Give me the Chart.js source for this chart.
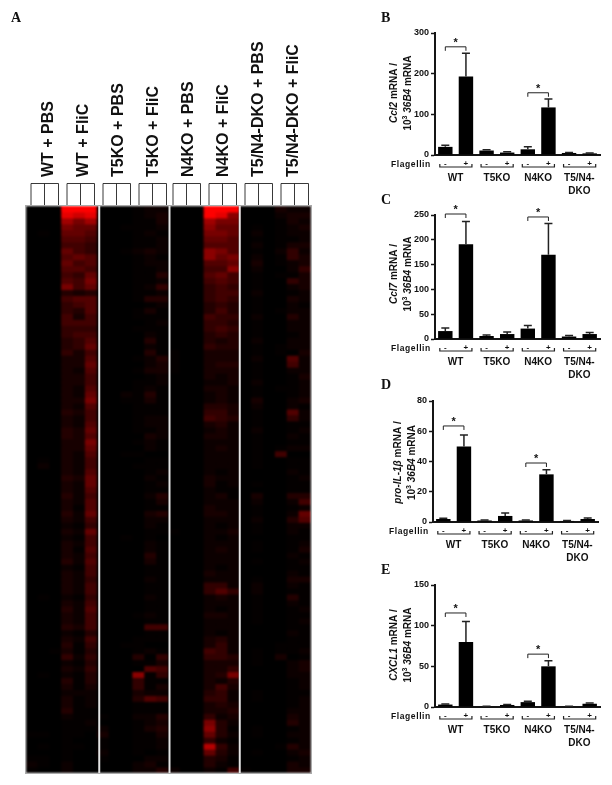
<!DOCTYPE html>
<html>
<head>
<meta charset="utf-8">
<script src="https://cdn.jsdelivr.net/npm/chart.js@4"></script>
<style>
html, body { margin: 0; padding: 0; background: #fff; }
body { position: relative; width: 612px; height: 785px; overflow: hidden; }
canvas { position: absolute; }
#heat { filter: blur(1px); clip-path: inset(206px 19px 12px 26px); }
</style>
</head>
<body>
<canvas id="heat" width="330" height="785" style="left:0;top:0"></canvas>
<canvas id="heatTop" width="330" height="785" style="left:0;top:0"></canvas>
<canvas id="panelB" width="242" height="198" style="left:370px;top:0"></canvas>
<canvas id="panelC" width="242" height="190" style="left:370px;top:192px"></canvas>
<canvas id="panelD" width="242" height="186" style="left:370px;top:376px"></canvas>
<canvas id="panelE" width="242" height="208" style="left:370px;top:562px"></canvas>
<script>
// heat map, one string per row, one hex digit per replicate (0 = black, f = full red)
var heatWT = [
  '000fff','000ede','000b9b','000988','010887','000776','000665','000865','000787','000867','000776','000658',
  '000769','000968','000434','000677','000567','000547','000636','000666','000555','000566','000457','000458',
  '000536','000337','000338','000327','000336','000336','000327','000328','000339','000327','000436','000326',
  '000327','000438','000437','000339','000338','000327','010326','020326','000327','000438','000328','000327',
  '000426','000327','000317','000428','000326','000215','000328','000216','000326','000317','000326','000427',
  '000216','000326','000325','000326','000326','010215','000326','000427','000326','000326','000436','000214',
  '000326','000415','001314','000525','000214','000325','010214','000414','000313','000222','000312','000312',
  '000411','000211','000112','000111','110110','000100','010110','000100','110100','210200','100200'
];
var heatT5 = [
  '000122','000123','000113','001112','000121','000112','000112','001232','000121','000122','000112','000114',
  '000112','000125','000112','000144','000012','000131','000111','000012','000111','000021','000041','000021',
  '000041','000124','000023','000133','000012','000112','000121','002141','001131','000111','000111','000122',
  '000122','000112','000032','000121','000021','001100','000011','000111','000012','000021','000012','000011',
  '000024','000013','000011','000034','000022','000021','000011','001010','000021','000021','000041','000031',
  '000011','000011','000021','000011','000011','000021','000011','000011','000121','000011','000066','000011',
  '000111','001100','000121','000405','000113','000076','000a15','000511','000513','000322','000476','000111',
  '000111','100224','000123','200134','300113','100112','100112','200101','100022','000231','000224'
];
var heatN4 = [
  '000fff','000fea','000b99','000a88','000998','000887','000777','000a97','000a89','000778','00066a','000786',
  '000676','000565','000566','000565','000454','000464','000655','000554','000565','000454','000434','000544',
  '100333','100333','100344','100333','000323','000223','000332','000232','000232','000443','000553','000654',
  '000342','000232','000332','000222','000232','000222','000222','000222','000212','000322','000312','000211',
  '000231','000222','000322','000332','000222','000212','100223','000212','000222','000232','000222','000222',
  '000212','000322','000222','000552','000575','000232','000222','000212','000332','000222','000222','000212',
  '000342','000352','000652','000554','000333','000335','000349','000324','000363','000452','000552','000343',
  '000334','000523','000942','000a41','000842','000521','000c52','000842','000431','000421','200216'
];
var heatDKO = [
  '000322','000233','000132','010123','020122','010112','020133','010252','020153','030123','020025','010113',
  '010053','010023','020012','010032','010021','010122','020042','010022','010022','010012','020022','010122',
  '010103','020072','010062','010022','010013','020012','010112','010012','030023','020021','010072','010052',
  '010011','020012','010021','010011','010122','010600','010011','010011','000021','000012','010011','000011',
  '030044','020026','010012','010028','020047','010022','010021','000011','010012','010013','000021','010012',
  '000011','000021','010033','020021','020011','010041','010021','010012','010011','010012','000011','000021',
  '000011','000111','010112','010301','010023','000023','000022','000012','000012','010011','010012','000012',
  '000022','000032','000042','010012','010022','000012','000142','010023','000012','000032','100033'
];
var heatPanels = [heatWT, heatT5, heatN4, heatDKO];
var heatLabels = ['WT + PBS', 'WT + FliC', 'T5KO + PBS', 'T5KO + FliC', 'N4KO + PBS', 'N4KO + FliC', 'T5/N4-DKO + PBS', 'T5/N4-DKO + FliC'];

// bar panels
var groups = [['WT'], ['T5KO'], ['N4KO'], ['T5/N4-', 'DKO']];
var ccl2Mean = [20, 193, 11, 6, 14, 117, 5, 4];
var ccl2Top = [24, 250, 13, 8, 20, 138, 6, 5];
var ccl7Mean = [16, 191, 6, 10, 21, 170, 5, 10];
var ccl7Top = [22, 237, 8, 14, 27, 233, 7, 13];
var il1bMean = [2, 50, 1, 4, 1, 31.5, 0.7, 2];
var il1bTop = [2.4, 57.5, 1.3, 6, 1.3, 34.5, 1, 2.6];
var cxcl1Mean = [3, 80, 0.7, 2.5, 6, 50, 0.7, 4];
var cxcl1Top = [3.8, 105, 1, 3.2, 7, 57, 1, 4.8];

var INK = '#151515';
var SANS = '"Liberation Sans", Arial, sans-serif';
var SERIF = '"Liberation Serif", "Times New Roman", serif';

function redFor(digit) {
  var v = parseInt(digit, 16) / 15;
  return 'rgb(' + Math.round(Math.pow(v, 1.5) * 255) + ',0,0)';
}

// one stacked dataset per heat map row
var heatDatasets = heatWT.map(function (row, r) {
  var cells = heatPanels.map(function (p) { return p[r]; }).join('').split('');
  return {
    data: cells.map(function () { return 1; }),
    backgroundColor: cells.map(redFor),
    borderWidth: 0,
    inflateAmount: 0.5,
    barPercentage: 1,
    categoryPercentage: 1
  };
});

var heatDecor = {
  id: 'heatDecor',
  beforeDatasetsDraw: function (chart) {
    var a = chart.chartArea, ctx = chart.ctx;
    ctx.fillStyle = '#000';
    ctx.fillRect(a.left, a.top, a.width, a.height);
  },
  afterDatasetsDraw: function (chart) {
    var a = chart.chartArea, xs = chart.scales.x;
    // frame and labels go on the sharp canvas above the blurred cells
    var ctx = document.getElementById('heatTop').getContext('2d');
    ctx.save();
    ctx.strokeStyle = '#e4e4e4';
    ctx.lineWidth = 2;
    [[6, 2], [12, 1], [18, 0]].forEach(function (s) {
      var x = xs.getPixelForValue(s[0]) - xs.width / 48 + s[1];
      ctx.beginPath(); ctx.moveTo(x, a.top); ctx.lineTo(x, a.bottom); ctx.stroke();
    });
    ctx.strokeStyle = '#aaa';
    ctx.lineWidth = 1;
    ctx.strokeRect(a.left - 0.5, a.top - 0.5, a.width + 1, a.height + 1);
    // combs above the columns
    var combLeft = [31, 67, 103, 139, 173, 209, 245, 281];
    var labelX = [49, 84, 119, 154, 189, 224, 259, 294];
    ctx.strokeStyle = '#222';
    ctx.lineWidth = 0.9;
    combLeft.forEach(function (x0) {
      ctx.beginPath();
      ctx.moveTo(x0, 205); ctx.lineTo(x0, 183.5); ctx.lineTo(x0 + 27.5, 183.5); ctx.lineTo(x0 + 27.5, 205);
      ctx.moveTo(x0 + 13.5, 183.5); ctx.lineTo(x0 + 13.5, 205);
      ctx.stroke();
    });
    // condition labels
    ctx.fillStyle = '#111';
    ctx.font = 'bold 16px ' + SANS;
    ctx.textAlign = 'left';
    ctx.textBaseline = 'middle';
    heatLabels.forEach(function (t, i) {
      ctx.save();
      ctx.translate(labelX[i], 177);
      ctx.rotate(-Math.PI / 2);
      ctx.fillText(t, 0, 0);
      ctx.restore();
    });
    ctx.font = 'bold 14px ' + SERIF;
    ctx.textBaseline = 'alphabetic';
    ctx.fillText('A', 11, 22);
    ctx.restore();
  }
};

new Chart(document.getElementById('heat'), {
  type: 'bar',
  data: { labels: heatDatasets[0].data.map(function (d, i) { return i; }), datasets: heatDatasets },
  options: {
    responsive: false,
    animation: false,
    events: [],
    layout: { padding: { left: 26, right: 19, top: 206, bottom: 12 } },
    plugins: { legend: { display: false }, tooltip: { enabled: false } },
    scales: {
      x: { stacked: true, display: false },
      y: { stacked: true, display: false, reverse: true, min: 0, max: heatWT.length }
    }
  },
  plugins: [heatDecor]
});

// writes a rotated line made of plain, italic and superscript runs
function rotatedRuns(ctx, runs, x, y) {
  var total = 0;
  runs.forEach(function (r) {
    ctx.font = (r.it ? 'italic ' : '') + 'bold ' + (r.sup ? 7 : 10) + 'px ' + SANS;
    r.w = ctx.measureText(r.t).width;
    total += r.w;
  });
  ctx.save();
  ctx.translate(x, y);
  ctx.rotate(-Math.PI / 2);
  var pos = -total / 2;
  ctx.textAlign = 'left';
  ctx.textBaseline = 'alphabetic';
  runs.forEach(function (r) {
    ctx.font = (r.it ? 'italic ' : '') + 'bold ' + (r.sup ? 7 : 10) + 'px ' + SANS;
    ctx.fillText(r.t, pos, r.sup ? -4 : 0);
    pos += r.w;
  });
  ctx.restore();
}

function barPanel(o) {
  var decor = {
    id: 'decor',
    afterDatasetsDraw: function (chart) {
      var ctx = chart.ctx, xs = chart.scales.x, ys = chart.scales.y, a = chart.chartArea;
      var zero = ys.getPixelForValue(0);
      ctx.save();
      // upper error bars
      ctx.strokeStyle = '#222';
      ctx.lineWidth = 1.5;
      o.top.forEach(function (t, i) {
        var x = xs.getPixelForValue(i), y = ys.getPixelForValue(t);
        ctx.beginPath();
        ctx.moveTo(x, ys.getPixelForValue(o.mean[i]));
        ctx.lineTo(x, y);
        ctx.moveTo(x - 4, y);
        ctx.lineTo(x + 4, y);
        ctx.stroke();
      });
      // significance brackets over the + / - pairs
      ctx.strokeStyle = '#222';
      ctx.lineWidth = 1;
      ctx.fillStyle = '#111';
      ctx.textAlign = 'center';
      ctx.font = 'bold 11px ' + SANS;
      o.brackets.forEach(function (b, k) {
        var x1 = xs.getPixelForValue(k * 4), x2 = xs.getPixelForValue(k * 4 + 1), y = ys.getPixelForValue(b);
        ctx.beginPath();
        ctx.moveTo(x1, y + 4); ctx.lineTo(x1, y); ctx.lineTo(x2, y); ctx.lineTo(x2, y + 4);
        ctx.stroke();
        ctx.fillText('*', (x1 + x2) / 2, y - 1);
      });
      // Flagellin row and group names
      ctx.lineWidth = 1.2;
      ctx.textAlign = 'left';
      ctx.font = 'bold 8.5px ' + SANS;
      ctx.letterSpacing = '0.6px';
      ctx.fillText('Flagellin', a.left - 44, zero + 11.5);
      ctx.letterSpacing = '0px';
      ctx.textAlign = 'center';
      groups.forEach(function (lines, g) {
        var x1 = xs.getPixelForValue(g * 2), x2 = xs.getPixelForValue(g * 2 + 1);
        ctx.beginPath();
        ctx.moveTo(x1 - 5.5, zero + 9); ctx.lineTo(x1 - 5.5, zero + 12); ctx.lineTo(x2 + 6, zero + 12); ctx.lineTo(x2 + 6, zero + 9);
        ctx.stroke();
        ctx.font = 'bold 8px ' + SANS;
        ctx.fillText('-', x1, zero + 11);
        ctx.fillText('+', x2, zero + 11);
        ctx.font = 'bold 10px ' + SANS;
        lines.forEach(function (t, l) {
          ctx.fillText(t, (x1 + x2) / 2, zero + 26 + l * 12.5);
        });
      });
      // y axis title
      ctx.fillStyle = '#111';
      var mid = (a.top + a.bottom) / 2 + o.titleShift;
      rotatedRuns(ctx, o.title1, o.titleX, mid);
      rotatedRuns(ctx, o.title2, o.titleX + 13.5, mid);
      // panel letter
      ctx.font = 'bold 14px ' + SERIF;
      ctx.textAlign = 'left';
      ctx.fillText(o.letter, 11, o.letterY);
      ctx.restore();
    }
  };

  new Chart(document.getElementById(o.id), {
    type: 'bar',
    data: {
      labels: o.mean.map(function (v, i) { return i; }),
      datasets: [{ data: o.mean, backgroundColor: '#000', barPercentage: 0.7, categoryPercentage: 1 }]
    },
    options: {
      responsive: false,
      animation: false,
      events: [],
      layout: { padding: { top: o.pad.top, right: o.pad.right, bottom: o.pad.bottom, left: 0 } },
      plugins: { legend: { display: false }, tooltip: { enabled: false } },
      scales: {
        x: {
          ticks: { display: false },
          grid: { display: false, drawTicks: false },
          border: { color: INK, width: 2 },
          afterFit: function (s) { s.height = 0; }
        },
        y: {
          min: 0,
          max: o.max,
          ticks: { stepSize: o.step, padding: 2, color: '#111', font: { family: SANS, size: 9, weight: 'bold' } },
          grid: { drawOnChartArea: false, tickLength: 4, tickWidth: 1.5, tickColor: INK },
          border: { color: INK, width: 2 },
          afterFit: function (s) { s.width = o.axisLeft; }
        }
      }
    },
    plugins: [decor]
  });
}

barPanel({
  id: 'panelB', letter: 'B', letterY: 22, mean: ccl2Mean, top: ccl2Top, max: 300, step: 100, brackets: [266, 153],
  axisLeft: 65, pad: { top: 33, right: 12, bottom: 43 }, titleX: 27, titleShift: -1,
  title1: [{ t: 'Ccl2', it: true }, { t: ' mRNA /' }],
  title2: [{ t: '10' }, { t: '3', sup: true }, { t: ' ' }, { t: '36B4', it: true }, { t: ' mRNA' }]
});
barPanel({
  id: 'panelC', letter: 'C', letterY: 12, mean: ccl7Mean, top: ccl7Top, max: 250, step: 50, brackets: [252, 246],
  axisLeft: 65, pad: { top: 23, right: 12, bottom: 43 }, titleX: 27, titleShift: -3,
  title1: [{ t: 'Ccl7', it: true }, { t: ' mRNA /' }],
  title2: [{ t: '10' }, { t: '3', sup: true }, { t: ' ' }, { t: '36B4', it: true }, { t: ' mRNA' }]
});
barPanel({
  id: 'panelD', letter: 'D', letterY: 13, mean: il1bMean, top: il1bTop, max: 80, step: 20, brackets: [63.5, 39],
  axisLeft: 63, pad: { top: 25, right: 14, bottom: 40 }, titleX: 31, titleShift: 1,
  title1: [{ t: 'pro-IL-1\u03B2', it: true }, { t: ' mRNA /' }],
  title2: [{ t: '10' }, { t: '3', sup: true }, { t: ' ' }, { t: '36B4', it: true }, { t: ' mRNA' }]
});
barPanel({
  id: 'panelE', letter: 'E', letterY: 12, mean: cxcl1Mean, top: cxcl1Top, max: 150, step: 50, brackets: [115.6, 65],
  axisLeft: 65, pad: { top: 23, right: 12, bottom: 63 }, titleX: 27, titleShift: -1,
  title1: [{ t: 'CXCL1', it: true }, { t: ' mRNA /' }],
  title2: [{ t: '10' }, { t: '3', sup: true }, { t: ' ' }, { t: '36B4', it: true }, { t: ' mRNA' }]
});
</script>
</body>
</html>
